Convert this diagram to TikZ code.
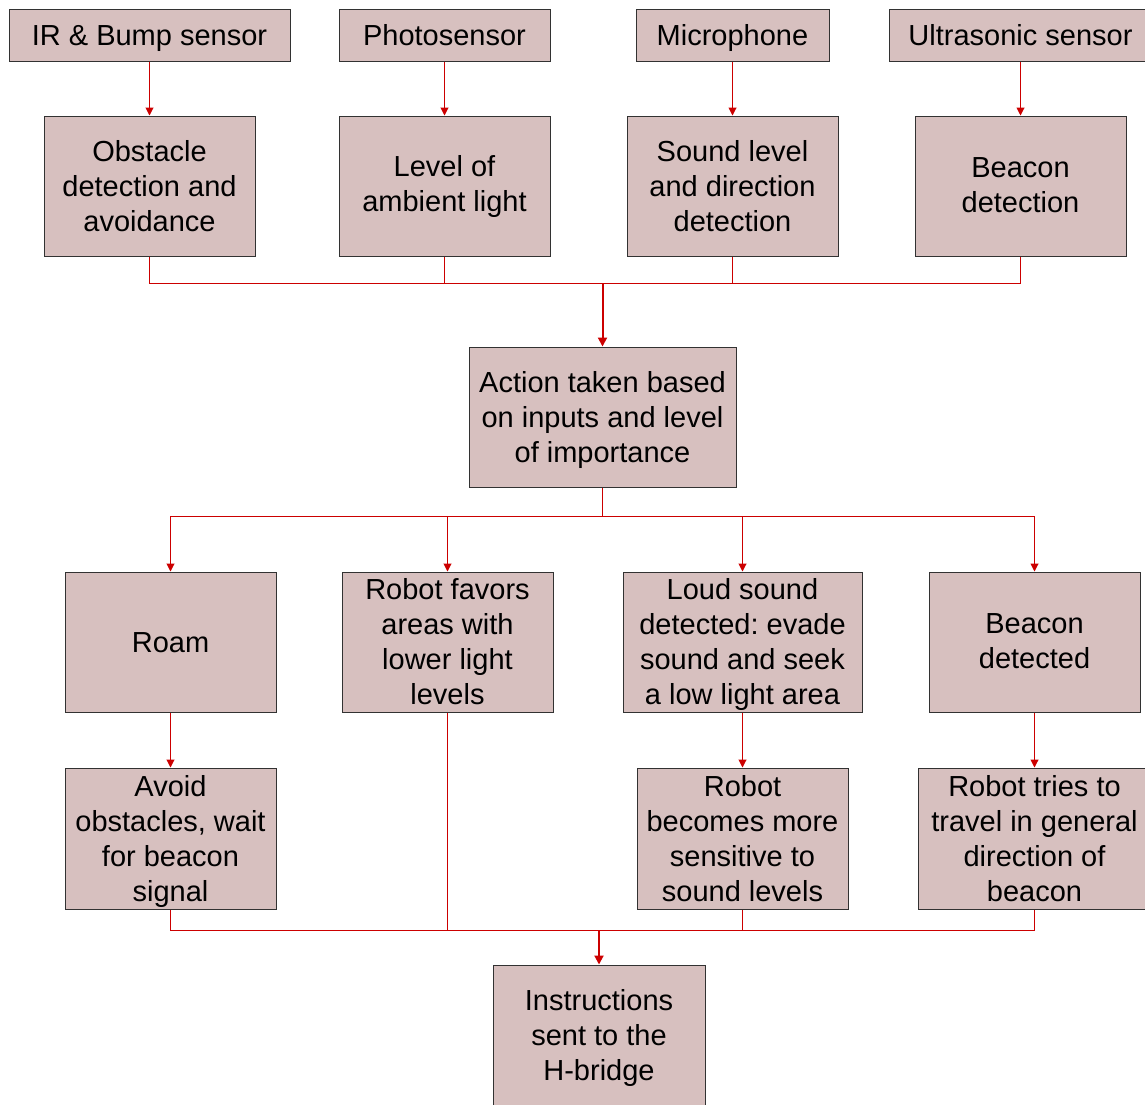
\documentclass[tikz,border=0pt]{standalone}
\usepackage{fontspec}
\setmainfont{Liberation Sans}
\usetikzlibrary{arrows.meta}
\definecolor{boxfill}{RGB}{215,192,191}
\definecolor{linered}{RGB}{204,0,0}
\definecolor{boxline}{RGB}{50,50,50}
\frenchspacing
\newcommand\boxstrut{\rule[-6.2pt]{0pt}{33.2pt}}
\newcommand\lastlinestrut{\rule[-1pt]{0pt}{1pt}}
\newcommand\flatline[1]{\raisebox{0pt}[\height][1pt]{#1}}
\tikzset{
  boxbase/.style={draw=boxline, fill=boxfill, line width=1pt, inner sep=0pt, align=center,
    font=\fontsize{29}{35}\selectfont\frenchspacing},
  box/.style={boxbase, execute at begin node=\boxstrut, execute at end node=\boxstrut},
  mbox/.style={boxbase, execute at end node=\lastlinestrut},
  conn/.style={draw=linered, line width=1pt},
  arr/.style={conn, -{Triangle[length=8pt,width=8pt]}},
  bigarr/.style={draw=linered, line width=2pt, -{Triangle[length=9pt,width=9pt]}}
}
\begin{document}
\begin{tikzpicture}[x=1pt,y=-1pt]
\useasboundingbox (0,0) rectangle (1145,1104);
\clip (0,0) rectangle (1145,1104);
% row 1
\node[box, minimum width=281pt, minimum height=52pt] (ir) at (149.5,35) {IR \& Bump sensor};
\node[box, minimum width=211pt, minimum height=52pt] (photo) at (444.5,35) {Photosensor};
\node[box, minimum width=193pt, minimum height=52pt] (micro) at (732.5,35) {Microphone};
\node[box, minimum width=263pt, minimum height=52pt] (ultra) at (1020.5,35) {Ultrasonic sensor};
% row 2
\node[mbox, minimum width=211pt, minimum height=140pt] (obst) at (149.5,186) {Obstacle\\detection and\\avoidance};
\node[mbox, minimum width=211pt, minimum height=140pt] (level) at (444.5,186) {Level of\\ambient light};
\node[mbox, minimum width=211pt, minimum height=140pt] (sound) at (732.5,186) {Sound level\\and direction\\detection};
\node[mbox, minimum width=211pt, minimum height=140pt] (beac) at (1020.5,186) {Beacon\\detection};
% action
\node[mbox, minimum width=267pt, minimum height=140pt] (action) at (602.5,417) {Action taken based\\on inputs and level\\\flatline{of importance}};
% row 3
\node[box, minimum width=211pt, minimum height=140pt] (roam) at (170.5,642) {Roam};
\node[mbox, minimum width=211pt, minimum height=140pt] (favors) at (447.5,642) {Robot favors\\areas with\\lower light\\levels};
\node[mbox, minimum width=239pt, minimum height=140pt] (loud) at (742.5,642) {Loud sound\\detected: evade\\sound and seek\\\flatline{a low light area}};
\node[mbox, minimum width=211pt, minimum height=140pt] (beacdet) at (1034.5,642) {Beacon\\detected};
% row 4
\node[mbox, minimum width=211pt, minimum height=141pt] (avoid) at (170.5,838.5) {Avoid\\obstacles, wait\\for beacon\\\flatline{signal}};
\node[mbox, minimum width=211pt, minimum height=141pt] (becomes) at (742.5,838.5) {Robot\\becomes more\\sensitive to\\sound levels};
\node[mbox, minimum width=232pt, minimum height=141pt] (tries) at (1034.5,838.5) {Robot tries to\\travel in general\\direction of\\beacon};
% bottom
\node[mbox, minimum width=212pt, minimum height=140pt] (instr) at (599,1035) {Instructions\\sent to the\\\flatline{H-bridge}};
% buses
\coordinate (bus1) at (602.5,283);
\coordinate (bus2) at (602.5,516);
\coordinate (bus3) at (599,930);
% connectors
\draw[arr] (ir) -- (obst);
\draw[arr] (photo) -- (level);
\draw[arr] (micro) -- (sound);
\draw[arr] (ultra) -- (beac);
\draw[conn] (obst.south) |- (bus1);
\draw[conn] (level.south) |- (bus1);
\draw[conn] (sound.south) |- (bus1);
\draw[conn] (beac.south) |- (bus1);
\draw[bigarr] (bus1) -- (action.north);
\draw[conn] (action.south) -- (bus2);
\draw[arr] (bus2) -| (roam.north);
\draw[arr] (bus2) -| (favors.north);
\draw[arr] (bus2) -| (loud.north);
\draw[arr] (bus2) -| (beacdet.north);
\draw[arr] (roam) -- (avoid);
\draw[arr] (loud) -- (becomes);
\draw[arr] (beacdet) -- (tries);
\draw[conn] (avoid.south) |- (bus3);
\draw[conn] (favors.south) |- (bus3);
\draw[conn] (becomes.south) |- (bus3);
\draw[conn] (tries.south) |- (bus3);
\draw[bigarr] (bus3) -- (instr.north);
\end{tikzpicture}
\end{document}
